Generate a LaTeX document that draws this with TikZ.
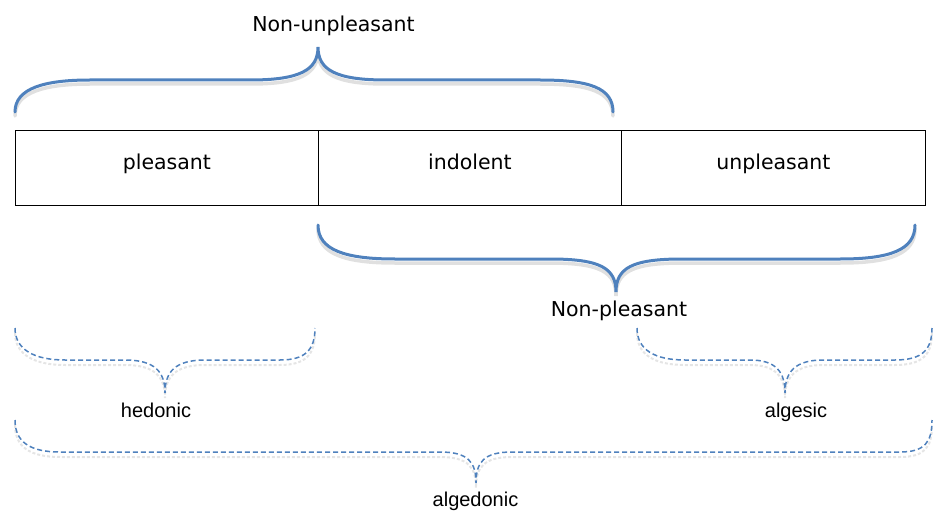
\documentclass[tikz,border=0pt]{standalone}
\usepackage{fontspec}
\setmainfont{Liberation Sans}
\newfontfamily\bigfont{DejaVu Sans}
\definecolor{braceblue}{HTML}{4F81BD}
\begin{document}
\begin{tikzpicture}[x=1pt,y=-1pt,
  cell/.style={draw=black,line width=0.8pt,minimum width=303pt,minimum height=75pt,inner sep=0pt,anchor=north west},
  biglab/.style={font=\bigfont\fontsize{20.5}{24}\selectfont,inner sep=0pt,anchor=base},
  smalllab/.style={font=\fontsize{20}{24}\selectfont,inner sep=0pt,anchor=base},
  solidbrace/.style={draw=braceblue,line width=3pt,line cap=round},
  dashbrace/.style={draw=braceblue,line width=1.5pt,dash pattern=on 5pt off 3pt},
  shadowline/.style={draw=black!12,line width=3.5pt,line cap=round},
  dshadowline/.style={draw=black!10,line width=2pt,dash pattern=on 3pt off 2pt}]
\useasboundingbox (0,0) rectangle (933,513);
% boxes
\node[cell] (pl) at (15,130) {};
\node[cell] (ind) at (318,130) {};
\node[cell,minimum width=304pt] (unp) at (621,130) {};
\path (pl.center) ++(0,1.5) node[biglab] (plt) {pleasant};
\path (ind.center) ++(0,1.5) node[biglab] (indt) {indolent};
\path (unp.center) ++(0,1.5) node[biglab] (unpt) {unpleasant};
% labels
\node[biglab] (nu) at (333.5,32) {Non-unpleasant};
\node[biglab] (np) at (619,316) {Non-pleasant};
\node[smalllab] (hed) at (156,417) {hedonic};
\node[smalllab] (alg) at (796,417) {algesic};
\node[smalllab] (algd) at (475.5,506) {algedonic};
% solid braces with soft shadow
\foreach \s/\o in {shadowline/4,solidbrace/0}{
\draw[\s,yshift=-\o] (15,112) .. controls (15,88) and (45,80) .. (90,80) -- (250,80)
  .. controls (300,80) and (318,70) .. (318,47)
  .. controls (318,70) and (336,80) .. (386,80) -- (540,80)
  .. controls (590,80) and (613,88) .. (613,112);
\draw[\s,yshift=-\o] (318,225) .. controls (318,250) and (345,259) .. (395,259) -- (550,259)
  .. controls (600,259) and (616,268) .. (616,292)
  .. controls (616,268) and (632,259) .. (682,259) -- (840,259)
  .. controls (890,259) and (915,250) .. (915,225);
}
% dashed braces with shadow
\foreach \s/\o in {dshadowline/5,dashbrace/0}{
\draw[\s,yshift=-\o] (15,328) .. controls (15,350) and (35,360) .. (65,360) -- (125,360)
  .. controls (155,360) and (165,372) .. (165,393)
  .. controls (165,372) and (175,360) .. (205,360) -- (280,360)
  .. controls (305,360) and (315,350) .. (315,328);
\draw[\s,yshift=-\o] (637,328) .. controls (637,350) and (655,360) .. (685,360) -- (750,360)
  .. controls (776,360) and (785,372) .. (785,393)
  .. controls (785,372) and (795,360) .. (823,360) -- (895,360)
  .. controls (922,360) and (932,350) .. (932,328);
\draw[\s,yshift=-\o] (15,420) .. controls (15,442) and (30,452) .. (60,452) -- (440,452)
  .. controls (468,452) and (476,462) .. (476,483)
  .. controls (476,462) and (484,452) .. (512,452) -- (900,452)
  .. controls (925,452) and (932,442) .. (932,420);
}
\end{tikzpicture}
\end{document}
